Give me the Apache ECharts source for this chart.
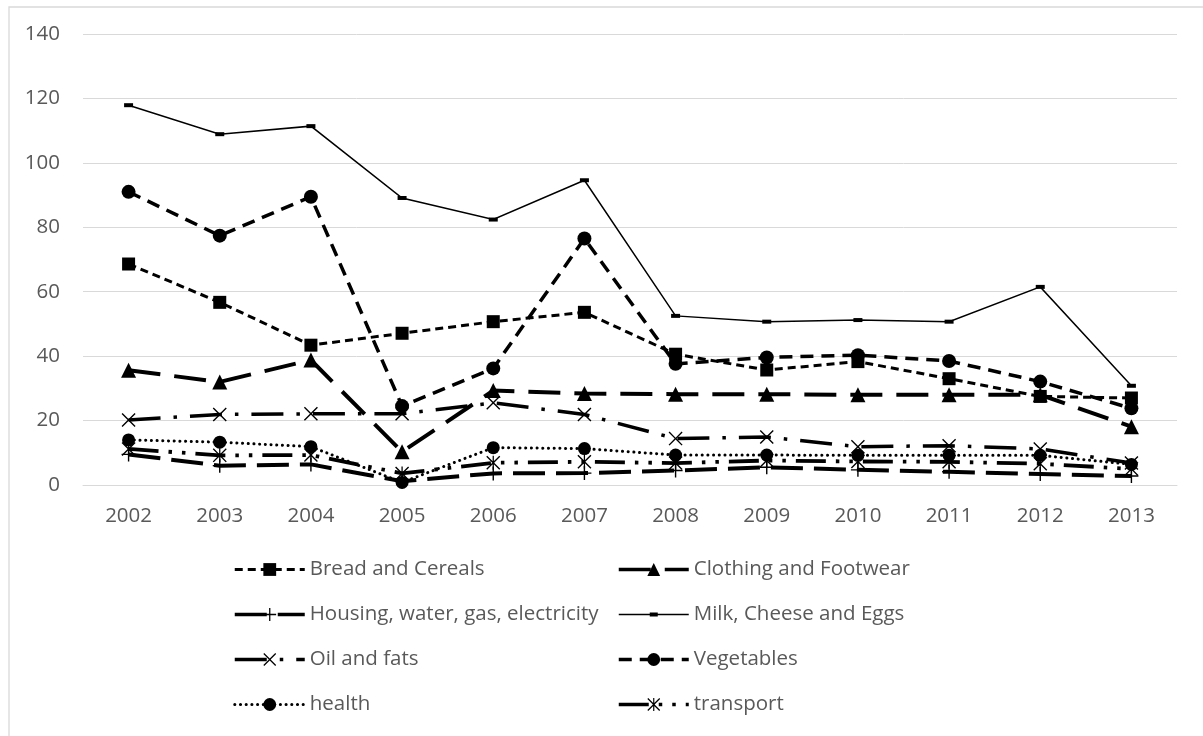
<!DOCTYPE html>
<html>
<head>
<meta charset="utf-8">
<script src="https://cdn.jsdelivr.net/npm/echarts@6/dist/echarts.min.js"></script>
<style>
  html, body { margin: 0; padding: 0; background: #ffffff; }
  #chart { width: 1203px; height: 736px; }
</style>
</head>
<body>
<div id="chart"></div>
<script>
// Price index series by category, 2002-2013
const years = ['2002','2003','2004','2005','2006','2007','2008','2009','2010','2011','2012','2013'];
const breadCereals = [68.6, 56.7, 43.4, 47.1, 50.7, 53.6, 40.6, 35.7, 38.3, 33.0, 27.5, 27.0];
const clothingFootwear = [35.6, 32.0, 38.8, 10.3, 29.3, 28.4, 28.2, 28.2, 28.0, 28.0, 28.0, 18.1];
const housingUtilities = [9.5, 6.0, 6.4, 1.2, 3.6, 3.7, 4.5, 5.5, 4.7, 4.1, 3.4, 2.8];
const milkCheeseEggs = [117.9, 108.9, 111.4, 89.1, 82.4, 94.6, 52.5, 50.7, 51.2, 50.7, 61.5, 30.8];
const oilFats = [20.2, 21.9, 22.1, 22.1, 25.5, 21.9, 14.4, 14.9, 11.9, 12.2, 11.2, 6.8];
const vegetables = [91.0, 77.4, 89.5, 24.5, 36.2, 76.5, 37.6, 39.6, 40.3, 38.5, 32.1, 23.8];
const health = [14.0, 13.3, 11.9, 0.8, 11.6, 11.3, 9.3, 9.3, 9.2, 9.2, 9.2, 6.4];
const transport = [11.2, 9.2, 9.3, 3.6, 6.9, 7.2, 6.8, 7.6, 7.3, 7.2, 6.6, 5.0];
const yTicks = { min: 0, max: 140, interval: 20 };

// Stroke-style marker shapes (drawn as filled outlines)
const PLUS = 'path://M9,0H11V9H20V11H11V20H9V11H0V9H9Z';
const CROSS = 'path://M1.4,0L10,8.6L18.6,0L20,1.4L11.4,10L20,18.6L18.6,20L10,11.4L1.4,20L0,18.6L8.6,10L0,1.4Z';
const STAR = CROSS + 'M9.1,0H10.9V20H9.1Z';
// Thin line with a small bar in the middle, for the milk legend key
const THIN_KEY = 'path://M0,7.25H70V8.75H0ZM31,6H39V10H31Z';

const FONT = '"Open Sans", "Noto Sans", sans-serif';
const TEXT = '#595959';
const INK = '#000000';

const styles = [
  { name: 'Bread and Cereals', data: breadCereals, symbol: 'rect', size: 13, width: 3, dash: [8, 5] },
  { name: 'Clothing and Footwear', data: clothingFootwear, symbol: 'triangle', size: 15, width: 4, dash: [32, 14] },
  { name: 'Housing, water, gas, electricity', data: housingUtilities, symbol: PLUS, size: 14, width: 4, dash: [32, 11] },
  { name: 'Milk, Cheese and Eggs', data: milkCheeseEggs, symbol: 'rect', size: [9, 4], width: 1.5, dash: 'solid', icon: THIN_KEY },
  { name: 'Oil and fats', data: oilFats, symbol: CROSS, size: 14, width: 3.5, dash: [32, 13, 3.5, 13] },
  { name: 'Vegetables', data: vegetables, symbol: 'circle', size: 14, width: 3.5, dash: [13, 8] },
  { name: 'health', data: health, symbol: 'circle', size: 13, width: 3, dash: [0.1, 5.6], cap: 'round' },
  { name: 'transport', data: transport, symbol: STAR, size: 14, width: 3.8, dash: [30, 10, 3.5, 10, 3.5, 10] }
];

const series = styles.map(s => ({
  name: s.name,
  type: 'line',
  data: s.data,
  symbol: s.symbol,
  symbolSize: s.size,
  showAllSymbol: true,
  animation: false,
  itemStyle: { color: INK, borderWidth: 0 },
  lineStyle: { color: INK, width: s.width, type: s.dash, cap: s.cap || 'butt', join: 'miter' },
  emphasis: { disabled: true }
}));

function legendBlock(names, left) {
  return {
    orient: 'vertical',
    left: left,
    top: 559,
    padding: 0,
    itemWidth: 70,
    itemHeight: 16,
    itemGap: 24,
    selectedMode: false,
    textStyle: { fontFamily: FONT, fontSize: 20.5, color: TEXT },
    data: names.map(n => {
      const s = styles.find(x => x.name === n);
      const item = { name: n, lineStyle: { width: Math.min(s.width, 3.5), cap: s.cap || 'butt' } };
      if (s.icon) item.icon = s.icon;
      return item;
    })
  };
}

const chart = echarts.init(document.getElementById('chart'), null, { renderer: 'canvas' });
chart.setOption({
  backgroundColor: '#ffffff',
  animation: false,
  textStyle: { fontFamily: FONT },
  grid: { left: 83, right: 26, top: 34, bottom: 251, containLabel: false },
  xAxis: {
    type: 'category',
    data: years,
    boundaryGap: true,
    axisLine: { show: true, lineStyle: { color: '#D9D9D9', width: 1 } },
    axisTick: { show: false },
    axisLabel: { color: TEXT, fontFamily: FONT, fontSize: 20.5, margin: 21, lineHeight: 20 }
  },
  yAxis: {
    type: 'value',
    min: yTicks.min,
    max: yTicks.max,
    interval: yTicks.interval,
    axisLine: { show: false },
    axisTick: { show: false },
    splitLine: { lineStyle: { color: '#D9D9D9', width: 1 } },
    axisLabel: { color: TEXT, fontFamily: FONT, fontSize: 20.5, margin: 23 }
  },
  legend: [
    legendBlock(['Bread and Cereals', 'Housing, water, gas, electricity', 'Oil and fats', 'health'], 233),
    legendBlock(['Clothing and Footwear', 'Milk, Cheese and Eggs', 'Vegetables', 'transport'], 617)
  ],
  graphic: [{
    type: 'rect',
    left: 6.5, top: 4.5,
    shape: { width: 1300, height: 900 },
    style: { fill: null, stroke: '#D9D9D9', lineWidth: 1.3 },
    silent: true, z: -10
  }],
  series: series
});
</script>
</body>
</html>
